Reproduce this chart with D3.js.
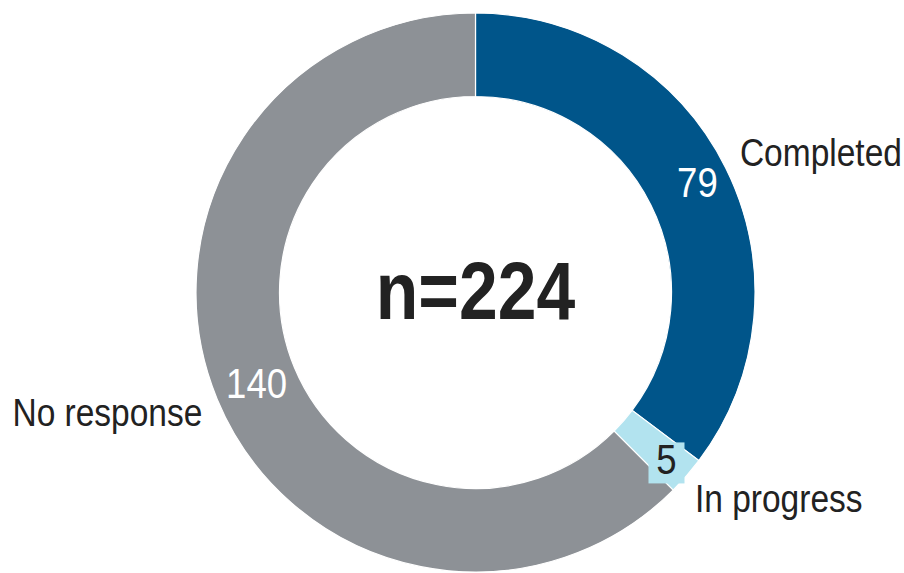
<!DOCTYPE html>
<html>
<head>
<meta charset="utf-8">
<script src="https://cdn.jsdelivr.net/npm/d3@7"></script>
<style>
  body { margin: 0; background: #fff; }
  text { font-family: "Liberation Sans", Arial, sans-serif; }
</style>
</head>
<body>
<svg id="chart" width="904" height="573"></svg>
<script>
const categories = ["Completed", "In progress", "No response"];
const counts = [79, 5, 140];
const colors = ["#00558a", "#b2e3ef", "#8d9196"];
const valueColors = ["#ffffff", "#222222", "#ffffff"];
const total = d3.sum(counts);

const center = { x: 475.5, y: 292.5 };
const outerRadius = 279.5;
const innerRadius = 196;
// value labels sit a bit off the band middle, as in the original
const valueRadius = [248, 253, 237];
const nameRadius = 300;
const nameNudge = [[-4, -6], [-7, 9], [4, 5]];
const narrow = 0.87; // fake a condensed face

const svg = d3.select("#chart");
const g = svg.append("g")
  .attr("transform", `translate(${center.x},${center.y})`);

const data = categories.map((c, i) => ({ name: c, value: counts[i], i }));

const pie = d3.pie().sort(null).value(d => d.value);
const arc = d3.arc().innerRadius(innerRadius).outerRadius(outerRadius);
const arcs = pie(data);

g.selectAll("path.slice")
  .data(arcs)
  .join("path")
  .attr("class", "slice")
  .attr("d", arc)
  .attr("fill", d => colors[d.data.i])
  .attr("stroke", "#fff")
  .attr("stroke-width", 1.2);

const pointAt = (d, r) => {
  const a = (d.startAngle + d.endAngle) / 2;
  return [r * Math.sin(a), -r * Math.cos(a)];
};

// value labels
const vals = g.selectAll("g.val")
  .data(arcs)
  .join("g")
  .attr("class", "val")
  .attr("transform", d => `translate(${pointAt(d, valueRadius[d.data.i])})`);

vals.filter(d => d.data.value < 10)
  .append("rect")
  .attr("x", -18).attr("y", -16)
  .attr("width", 36).attr("height", 41)
  .attr("fill", d => colors[d.data.i]);

vals.append("text")
  .attr("transform", `scale(${narrow},1)`)
  .attr("text-anchor", "middle")
  .attr("dy", "0.36em")
  .attr("font-size", 42)
  .attr("fill", d => valueColors[d.data.i])
  .text(d => d.data.value);

// category labels
g.selectAll("text.name")
  .data(arcs)
  .join("text")
  .attr("class", "name")
  .attr("transform", d => {
    const [x, y] = pointAt(d, nameRadius);
    const [nx, ny] = nameNudge[d.data.i];
    return `translate(${x + nx},${y + ny}) scale(${narrow},1)`;
  })
  .attr("text-anchor", d => ((d.startAngle + d.endAngle) / 2 < Math.PI ? "start" : "end"))
  .attr("dy", "0.36em")
  .attr("font-size", 38.5)
  .attr("fill", "#222")
  .text(d => d.data.name);

g.append("text")
  .attr("transform", `translate(0,-3) scale(0.86,1)`)
  .attr("text-anchor", "middle")
  .attr("dy", "0.36em")
  .attr("font-size", 81)
  .attr("font-weight", "bold")
  .attr("fill", "#222")
  .text(`n=${total}`);
</script>
</body>
</html>
